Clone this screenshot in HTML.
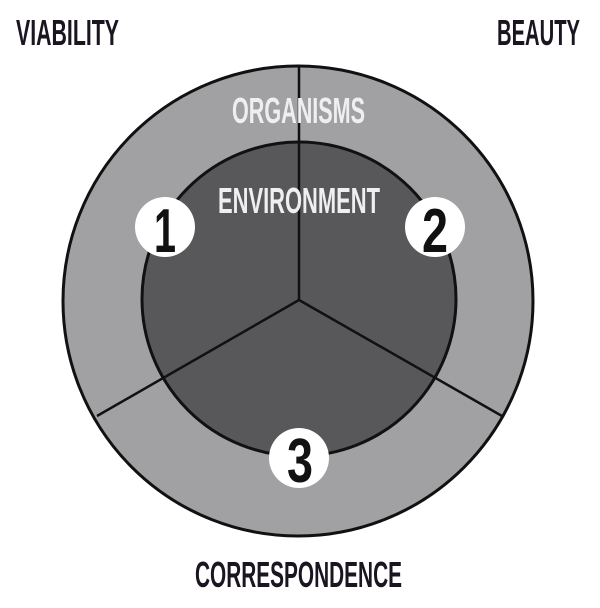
<!DOCTYPE html>
<html><head><style>
html,body{margin:0;padding:0;background:#fff;}
svg{display:block;}
text{font-family:"Liberation Sans Narrow","Liberation Sans",sans-serif;font-weight:bold;}
</style></head><body>
<svg width="600" height="608" viewBox="0 0 600 608">
<rect width="600" height="608" fill="#fff"/>
<circle cx="298" cy="301" r="235" fill="#a1a1a3" stroke="#111" stroke-width="3"/>
<circle cx="299" cy="299" r="157" fill="#58585a" stroke="#111" stroke-width="3"/>
<g stroke="#111" stroke-width="2.5">
<line x1="299" y1="300" x2="299" y2="67"/>
<line x1="299" y1="300" x2="97" y2="416"/>
<line x1="299" y1="300" x2="502" y2="416"/>
</g>
<circle cx="165" cy="227" r="30" fill="#fff"/>
<circle cx="435" cy="227" r="30" fill="#fff"/>
<circle cx="299" cy="458" r="30" fill="#fff"/>
<g fill="#111" font-size="62" text-anchor="middle" style="font-weight:normal">
<text x="165" y="252" textLength="22" lengthAdjust="spacingAndGlyphs">1</text>
<text x="435" y="252" textLength="26" lengthAdjust="spacingAndGlyphs">2</text>
<text x="300" y="482" textLength="26" lengthAdjust="spacingAndGlyphs">3</text>
</g>
<g fill="#1a1520" font-size="36">
<text x="16" y="45" textLength="103" lengthAdjust="spacingAndGlyphs">VIABILITY</text>
<text x="497" y="45" textLength="83" lengthAdjust="spacingAndGlyphs">BEAUTY</text>
<text x="195" y="587" textLength="207" lengthAdjust="spacingAndGlyphs">CORRESPONDENCE</text>
</g>
<g fill="#efeff1" font-size="36">
<text x="232" y="123" textLength="133" lengthAdjust="spacingAndGlyphs">ORGANISMS</text>
<text x="218" y="213" textLength="162" lengthAdjust="spacingAndGlyphs">ENVIRONMENT</text>
</g>
</svg>
</body></html>
